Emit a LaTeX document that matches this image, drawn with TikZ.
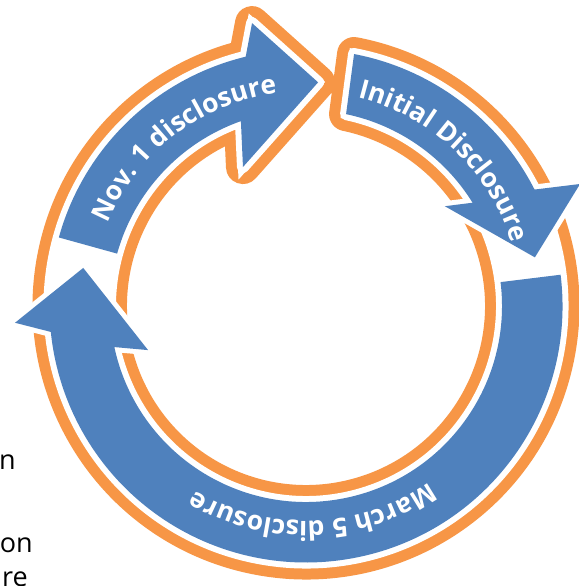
\documentclass[tikz,border=0pt]{standalone}
\usepackage{fontspec}
\setmainfont{Open Sans}
\usetikzlibrary{decorations.text}
\definecolor{arrowblue}{HTML}{4F81BD}
\definecolor{ringorange}{HTML}{F79646}
\newcommand\lblfont{\fontsize{26.5pt}{26.5pt}\selectfont\bfseries\color{white}}
\tikzset{
  ringline/.style={draw=ringorange, line width=34pt, line join=round},
  ringclear/.style={fill=white, draw=white, line width=12pt, line join=round},
  bluearrow/.style={preaction={draw=white, line width=10pt, line join=miter}, fill=arrowblue},
  fragtext/.style={anchor=base east, inner sep=0pt, font=\fontsize{27pt}{27pt}\selectfont, text=black}
}
\begin{document}
\begin{tikzpicture}
\useasboundingbox (0pt,0pt) rectangle (578pt,586pt);
\begin{scope}[shift={(306pt,280pt)}]
  % orange outline of the whole cycle (ring + Nov. 1 arrow head)
  \def\ringpath{(79.2:256.5pt) arc[start angle=79.2, end angle=-256.4, radius=256.5pt]
    -- (100.8:288pt) -- (86.9:224pt) -- (114.4:152.6pt) -- (109.4:196pt)
    arc[start angle=-250.6, end angle=78.2, radius=196pt] -- cycle}
  \path[ringline] \ringpath;
  \path[ringclear] \ringpath;

  % Nov. 1 arrow
  \path[bluearrow] (164.5:256.5pt) arc[start angle=164.5, end angle=103.6, radius=256.5pt]
    -- (100.8:288pt) -- (86.9:224pt) -- (114.4:152.6pt) -- (109.4:196pt)
    arc[start angle=109.4, end angle=164.5, radius=196pt] -- cycle;
  % Initial Disclosure arrow
  \path[bluearrow] (79.2:256.5pt) arc[start angle=79.2, end angle=27, radius=256.5pt]
    -- (24:300pt) -- (12:234pt) -- (35.7:171pt) -- (31.8:196pt)
    arc[start angle=31.8, end angle=78.2, radius=196pt] -- cycle;
  % March 5 arrow
  \path[bluearrow] (7:256.5pt) arc[start angle=7, end angle=-174.2, radius=256.5pt]
    -- (-176.7:291.5pt) -- (-189.7:226pt) -- (-164.4:164pt) -- (-167.9:196pt)
    arc[start angle=-167.9, end angle=7, radius=196pt] -- cycle;

  % labels
  \path[decorate, decoration={text along path, text align=center,
      text={|\lblfont|Nov. 1 disclosure}}]
    (168:215pt) arc[start angle=168, end angle=87, radius=215pt];
  \path[decorate, decoration={text along path, text align=center,
      text={|\lblfont|Initial Disclosure}}]
    (87:215pt) arc[start angle=87, end angle=6, radius=215pt];
  \path[decorate, decoration={text along path, text align=center,
      text={|\lblfont|March 5 disclosure}}]
    (-45:215pt) arc[start angle=-45, end angle=-131, radius=215pt];
\end{scope}
\node[fragtext] (fragn) at (16pt,116pt) {n};
\node[fragtext] (fragon) at (33pt,33pt) {on};
\node[fragtext] (fragre) at (28pt,-1pt) {re};
\end{tikzpicture}
\end{document}
